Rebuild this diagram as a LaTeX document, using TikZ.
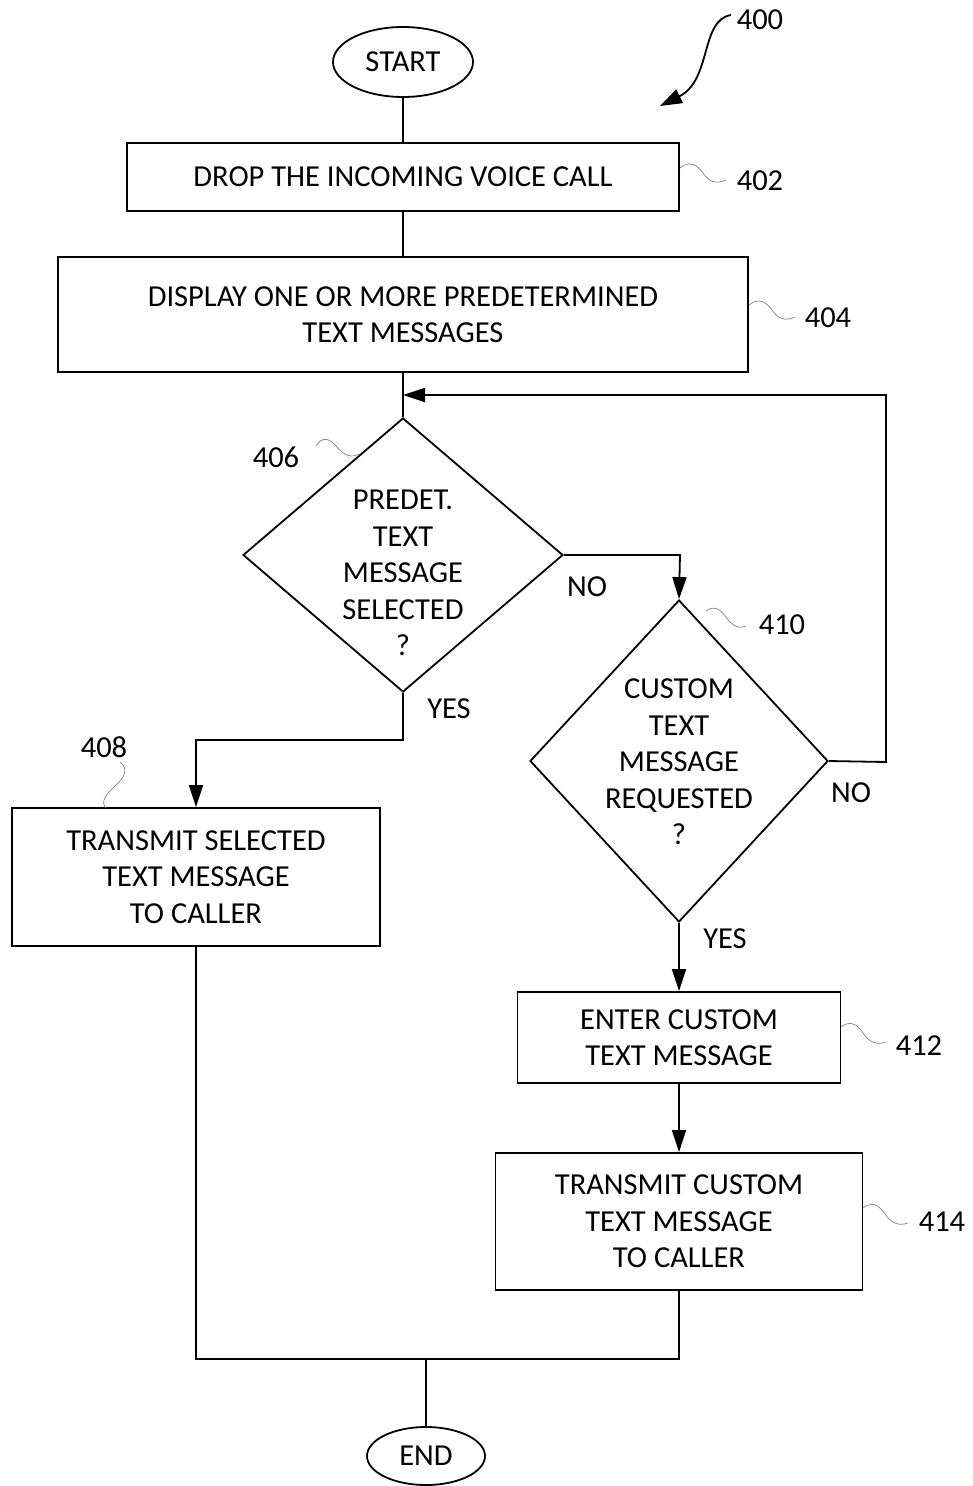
\documentclass[tikz,border=0pt]{standalone}
\usepackage{fontspec}
\setmainfont{Carlito}
\usetikzlibrary{shapes.geometric,arrows.meta}
\begin{document}
\begin{tikzpicture}[x=1pt,y=-1pt,
  every node/.style={font=\fontsize{30.5}{36.5}\selectfont},
  box/.style={draw, line width=1.8pt, inner sep=0pt, align=center},
  term/.style={ellipse, draw, line width=1.8pt, inner sep=0pt},
  dec/.style={diamond, draw, line width=1.8pt, inner sep=0pt},
  txt/.style={align=center, inner sep=0pt},
  conn/.style={line width=1.8pt},
  arr/.style={line width=1.8pt, -{Triangle[length=22pt,width=14pt]}},
  squig/.style={line width=0.7pt, draw=gray},
  lbl/.style={inner sep=0pt}
]
\useasboundingbox (0,0) rectangle (972,1486);
% nodes
\node[term, minimum width=140pt, minimum height=70pt] (start) at (403,62) {};
\node[txt] (tstart) at (start.center) {START};
\node[box, minimum width=552pt, minimum height=68pt] (b402) at (403,177) {DROP THE INCOMING VOICE CALL};
\node[box, minimum width=690pt, minimum height=115pt] (b404) at (403,314.5) {DISPLAY ONE OR MORE PREDETERMINED\\TEXT MESSAGES};
\node[dec, minimum width=320pt, minimum height=274pt] (d406) at (403,555) {};
\node[txt] (t406) at (403,573) {PREDET.\\TEXT\\MESSAGE\\SELECTED\\?};
\node[box, minimum width=368pt, minimum height=138pt] (b408) at (196,877) {TRANSMIT SELECTED\\TEXT MESSAGE\\TO CALLER};
\node[dec, minimum width=298pt, minimum height=322pt] (d410) at (679,761) {};
\node[txt] (t410) at (679,762) {CUSTOM\\TEXT\\MESSAGE\\REQUESTED\\?};
\node[box, minimum width=323pt, minimum height=91pt] (b412) at (679,1037.5) {ENTER CUSTOM\\TEXT MESSAGE};
\node[box, minimum width=367pt, minimum height=137pt] (b414) at (679,1221.5) {TRANSMIT CUSTOM\\TEXT MESSAGE\\TO CALLER};
\node[term, minimum width=118pt, minimum height=58pt] (end) at (426,1456) {};
\node[txt] (tend) at (end.center) {END};
% coordinates
\coordinate (loopin) at (403,395);
\coordinate (loopcorner1) at (886,762);
\coordinate (loopcorner2) at (886,395);
\coordinate (yes1) at (403,740);
\coordinate (yes2) at (196,740);
\coordinate (no1) at (680,555);
\coordinate (join1) at (196,1359);
\coordinate (join2) at (679,1359);
\coordinate (join3) at (426,1359);
% connectors
\draw[conn] (start.south) -- (b402.north);
\draw[conn] (b402.south) -- (b404.north);
\draw[conn] (b404.south) -- (d406.north);
\draw[arr] (d410.east) -- (loopcorner1) -- (loopcorner2) -- (loopin);
\draw[arr] (d406.east) -- (no1) -- (d410.north);
\draw[arr] (d406.south) -- (yes1) -- (yes2) -- (b408.north);
\draw[arr] (d410.south) -- (b412.north);
\draw[arr] (b412.south) -- (b414.north);
\draw[conn] (b408.south) -- (join1) -- (join2) -- (b414.south);
\draw[conn] (join3) -- (end.north);
% branch labels
\node[lbl] (lyes1) at (449,709) {YES};
\node[lbl] (lno1) at (587,587) {NO};
\node[lbl] (lno2) at (851,793) {NO};
\node[lbl] (lyes2) at (725,939) {YES};
% reference numerals
\node[lbl] (n400) at (760,20) {400};
\node[lbl] (n402) at (760,181) {402};
\node[lbl] (n404) at (828,318) {404};
\node[lbl] (n406) at (276,457) {406};
\node[lbl] (n408) at (104,747) {408};
\node[lbl] (n410) at (782,625) {410};
\node[lbl] (n412) at (919,1046) {412};
\node[lbl] (n414) at (942,1222) {414};
% 400 arrow
\draw[line width=1.8pt, -{Triangle[length=22pt,width=15pt]}] (731,15) .. controls (700,20) and (712,80) .. (660,106);
% squiggles
\draw[squig] (680,168) .. controls (690,160) and (697,165) .. (703,173) .. controls (710,183) and (717,184) .. (726,180);
\draw[squig] (749,305) .. controls (759,297) and (766,302) .. (772,310) .. controls (779,320) and (786,321) .. (795,317);
\draw[squig] (316,446) .. controls (322,436) and (330,438) .. (337,447) .. controls (344,456) and (352,458) .. (359,454);
\draw[squig] (120,762) .. controls (128,768) and (126,776) .. (116,785) .. controls (106,794) and (100,802) .. (106,808);
\draw[squig] (706,611) .. controls (714,605) and (720,609) .. (726,617) .. controls (733,627) and (740,629) .. (746,626);
\draw[squig] (841,1027) .. controls (850,1020) and (857,1024) .. (863,1033) .. controls (870,1043) and (877,1045) .. (886,1042);
\draw[squig] (863,1208) .. controls (872,1201) and (879,1205) .. (885,1214) .. controls (892,1224) and (899,1226) .. (908,1223);
\end{tikzpicture}
\end{document}
